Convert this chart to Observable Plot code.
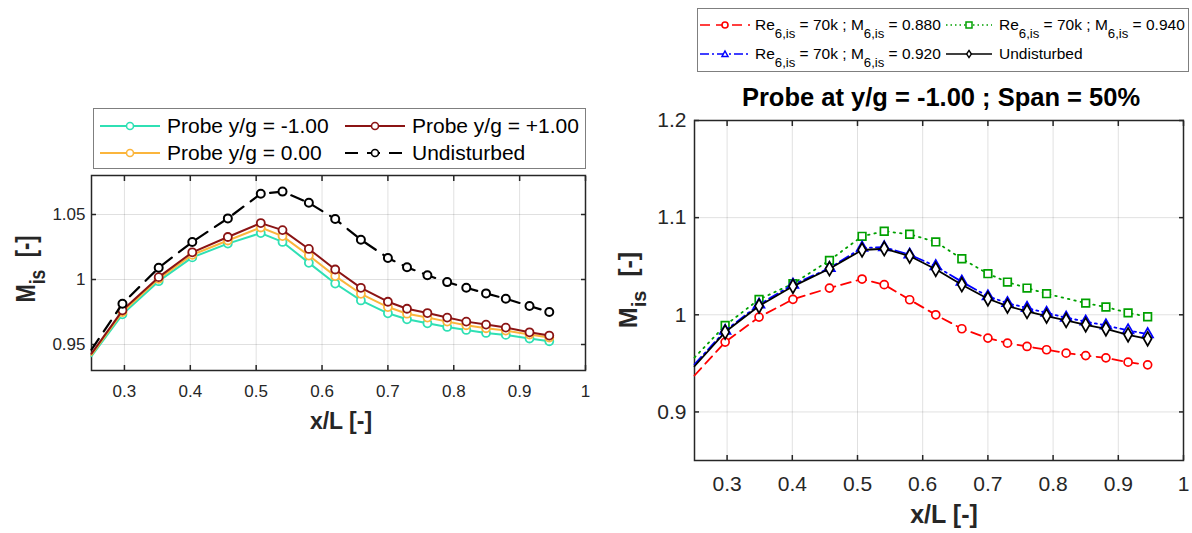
<!DOCTYPE html>
<html>
<head>
<meta charset="utf-8">
<script src="https://cdn.jsdelivr.net/npm/d3@7"></script>
<script src="https://cdn.jsdelivr.net/npm/@observablehq/plot@0.6"></script>
<style>
  html, body { margin: 0; padding: 0; background: #fff; }
  #root { position: relative; width: 1192px; height: 533px; overflow: hidden; background: #fff;
          font-family: "Liberation Sans", Arial, Helvetica, sans-serif; color: #262626; }
  .legend { position: absolute; background: #fff; border: 1px solid #7f7f7f; box-sizing: border-box; }
  .item { position: absolute; display: flex; align-items: center; white-space: nowrap; color: #000; }
  .item svg { flex: none; }
  .axlab { position: absolute; font-weight: bold; color: #262626; white-space: nowrap; }
  sub { font-size: 0.8em; vertical-align: -0.45em; line-height: 0; }
  .rl sub { font-size: 0.85em; vertical-align: -0.6em; }
</style>
</head>
<body>
<div id="root"></div>
<script>
// ---------------- Data ----------------
// Left panel: probe positions y/g
const leftX = [0.25, 0.297, 0.352, 0.403, 0.457, 0.507, 0.540, 0.580, 0.620, 0.659, 0.700, 0.729, 0.760, 0.790, 0.819, 0.849, 0.879, 0.915, 0.945];
const leftProbeMinus1 = [0.941, 0.9732, 0.9987, 1.017, 1.0276, 1.0357, 1.0289, 1.0128, 0.9969, 0.9839, 0.974, 0.9694, 0.9663, 0.9635, 0.9612, 0.9589, 0.9574, 0.9546, 0.9525];
const leftProbe0 = [0.942, 0.975, 1.0005, 1.019, 1.030, 1.040, 1.0334, 1.0184, 1.0026, 0.989, 0.9788, 0.9737, 0.9707, 0.9676, 0.9648, 0.9625, 0.9607, 0.9577, 0.9554];
const leftProbePlus1 = [0.943, 0.9763, 1.0018, 1.0209, 1.0327, 1.0434, 1.038, 1.0235, 1.0077, 0.9936, 0.9829, 0.9775, 0.9742, 0.9707, 0.9676, 0.9653, 0.963, 0.9594, 0.9569];
const leftUndisturbed = [0.946, 0.9814, 1.009, 1.0289, 1.047, 1.066, 1.0676, 1.059, 1.0465, 1.0306, 1.0166, 1.0094, 1.0033, 0.998, 0.9936, 0.9893, 0.9852, 0.9796, 0.975];
const leftLabels = ["Probe y/g = -1.00", "Probe y/g = +1.00", "Probe y/g = 0.00", "Undisturbed"];

// Right panel: Mach number variation
const rightX = [0.25, 0.297, 0.349, 0.401, 0.457, 0.507, 0.541, 0.580, 0.620, 0.660, 0.700, 0.730, 0.760, 0.790, 0.820, 0.850, 0.881, 0.915, 0.945];
const rightM088 = [0.9375, 0.9719, 0.9976, 1.0159, 1.0275, 1.0368, 1.031, 1.0155, 1.0, 0.9856, 0.976, 0.9708, 0.9674, 0.964, 0.9605, 0.958, 0.9557, 0.9512, 0.9485];
const rightM092 = [0.949, 0.9835, 1.0105, 1.031, 1.048, 1.069, 1.0695, 1.062, 1.050, 1.034, 1.019, 1.012, 1.007, 1.002, 0.997, 0.993, 0.989, 0.984, 0.980];
const rightXM094 = [0.25, 0.297, 0.349, 0.401, 0.457, 0.507, 0.541, 0.580, 0.620, 0.660, 0.700, 0.730, 0.760, 0.790, 0.850, 0.881, 0.915, 0.945];
const rightM094 = [0.956, 0.989, 1.0159, 1.032, 1.056, 1.0808, 1.086, 1.0829, 1.075, 1.0577, 1.0423, 1.0337, 1.0275, 1.0217, 1.012, 1.008, 1.002, 0.998];
const rightUndisturbed = [0.947, 0.9822, 1.009, 1.0293, 1.0474, 1.0667, 1.068, 1.0605, 1.0468, 1.031, 1.0165, 1.009, 1.0035, 0.9987, 0.9942, 0.9897, 0.9856, 0.9794, 0.9753];
const rightLabels = [
  "Re<sub>6,is</sub> = 70k ; M<sub>6,is</sub> = 0.880",
  "Re<sub>6,is</sub> = 70k ; M<sub>6,is</sub> = 0.940",
  "Re<sub>6,is</sub> = 70k ; M<sub>6,is</sub> = 0.920",
  "Undisturbed"
];
const rightTitle = "Probe at y/g = -1.00 ; Span = 50%";

const xTicks = [0.3, 0.4, 0.5, 0.6, 0.7, 0.8, 0.9, 1];
const leftYTicks = [0.95, 1, 1.05];
const rightYTicks = [0.9, 1, 1.1, 1.2];
const xLabel = "x/L [-]";

// ---------------- Helpers ----------------
const FONT = '"Liberation Sans", Arial, Helvetica, sans-serif';
const fmt = d => (Math.abs(d - Math.round(d)) < 1e-9 ? String(Math.round(d)) : String(+d.toFixed(2)));
const pts = (xs, ys) => xs.map((x, i) => ({x, y: ys[i]}));
const root = document.getElementById("root");

function frameAxes(yTicks, fontSize, xPad, yPad) {
  return [
    Plot.gridX(xTicks, {stroke: "#000", strokeOpacity: 0.12}),
    Plot.gridY(yTicks, {stroke: "#000", strokeOpacity: 0.12}),
    Plot.axisX(xTicks, {anchor: "bottom", tickSize: -5, tickPadding: xPad, tickFormat: fmt, fontSize, fill: "#262626", stroke: "#262626", strokeWidth: 1.5, label: null}),
    Plot.axisX(xTicks, {anchor: "top", tickSize: -5, tickFormat: () => "", stroke: "#262626", strokeWidth: 1.5, label: null}),
    Plot.axisY(yTicks, {anchor: "left", tickSize: -5, tickPadding: yPad, tickFormat: fmt, fontSize, fill: "#262626", stroke: "#262626", strokeWidth: 1.5, label: null}),
    Plot.axisY(yTicks, {anchor: "right", tickSize: -5, tickFormat: () => "", stroke: "#262626", strokeWidth: 1.5, label: null}),
    Plot.frame({stroke: "#262626", strokeWidth: 1.5})
  ];
}

function series(data, color, opts) {
  const marks = [Plot.line(data, {x: "x", y: "y", stroke: color, strokeWidth: opts.w, strokeDasharray: opts.dash, strokeLinejoin: "round"})];
  marks.push(Plot.dot(data.filter(d => d.x > 0.26), {x: "x", y: "y", symbol: opts.symbol, r: opts.r, stroke: color, fill: "#fff", strokeWidth: opts.mw}));
  return marks;
}

// ---------------- Left chart ----------------
const L = {m1: "#2fe0b4", z0: "#fbb53c", p1: "#8b1414", und: "#000"};
const leftPlot = Plot.plot({
  width: 600, height: 240,
  marginLeft: 91, marginRight: 15, marginTop: 5, marginBottom: 40,
  x: {domain: [0.25, 1]},
  y: {domain: [0.93, 1.08]},
  style: {fontFamily: FONT, background: "transparent", overflow: "visible"},
  marks: [
    ...frameAxes(leftYTicks, 17, 19, 11),
    ...series(pts(leftX, leftProbeMinus1), L.m1, {w: 2, symbol: "circle", r: 4, mw: 1.8}),
    ...series(pts(leftX, leftProbe0), L.z0, {w: 2, symbol: "circle", r: 4, mw: 1.8}),
    ...series(pts(leftX, leftProbePlus1), L.p1, {w: 2, symbol: "circle", r: 4, mw: 1.8}),
    ...series(pts(leftX, leftUndisturbed), L.und, {w: 2.2, dash: "13,9", symbol: "circle", r: 4, mw: 2})
  ]
});
leftPlot.style.position = "absolute";
leftPlot.style.left = "0px";
leftPlot.style.top = "170px";
root.appendChild(leftPlot);

// ---------------- Right chart ----------------
const R = {red: "#ff0000", blue: "#0000ff", green: "#00a000", und: "#000"};
const rightPlot = Plot.plot({
  width: 592, height: 400,
  marginLeft: 94, marginRight: 9, marginTop: 10, marginBottom: 50,
  x: {domain: [0.25, 1]},
  y: {domain: [0.85, 1.2]},
  style: {fontFamily: FONT, background: "transparent", overflow: "visible"},
  marks: [
    ...frameAxes(rightYTicks, 21, 21, 13),
    ...series(pts(rightX, rightM088), R.red, {w: 1.8, dash: "10,6", symbol: "circle", r: 4, mw: 1.7}),
    ...series(pts(rightXM094, rightM094), R.green, {w: 1.8, dash: "1.5,5", symbol: "square", r: 4.3, mw: 1.7}),
    ...series(pts(rightX, rightM092), R.blue, {w: 1.8, dash: "10,4,2,4", symbol: "triangle", r: 4, mw: 1.7}),
    ...series(pts(rightX, rightUndisturbed), R.und, {w: 1.8, symbol: "diamond", r: 4.2, mw: 1.7})
  ]
});
rightPlot.style.position = "absolute";
rightPlot.style.left = "600px";
rightPlot.style.top = "110px";
root.appendChild(rightPlot);

// ---------------- Labels ----------------
function addDiv(cls, html, css) {
  const d = document.createElement("div");
  d.className = cls;
  d.innerHTML = html;
  Object.assign(d.style, css);
  root.appendChild(d);
  return d;
}
addDiv("axlab", xLabel, {left: "341px", top: "421px", fontSize: "23px", transform: "translate(-50%,-50%)"});
addDiv("axlab", "M<sub>is</sub>&nbsp; [-]", {left: "26px", top: "269px", fontSize: "22px", transform: "translate(-50%,-50%) rotate(-90deg) scaleY(1.25)"});
addDiv("axlab", xLabel, {left: "944px", top: "514px", fontSize: "25px", transform: "translate(-50%,-50%)"});
addDiv("axlab", "M<sub>is</sub>&nbsp; [-]", {left: "628px", top: "290px", fontSize: "25px", transform: "translate(-50%,-50%) rotate(-90deg)"});
addDiv("axlab", rightTitle, {left: "941px", top: "97px", fontSize: "25.5px", color: "#000", transform: "translate(-50%,-50%)"});

// ---------------- Legends ----------------
function swatch(w, color, lw, dash, symbol, size) {
  const cx = w / 2, cy = 8;
  let m = "";
  if (symbol === "circle") m = `<circle cx="${cx}" cy="${cy}" r="${size}" fill="#fff" stroke="${color}" stroke-width="1.6"/>`;
  if (symbol === "square") m = `<rect x="${cx - size}" y="${cy - size}" width="${2 * size}" height="${2 * size}" fill="#fff" stroke="${color}" stroke-width="1.5"/>`;
  if (symbol === "triangle") m = `<path d="M${cx},${cy - size} L${cx + size},${cy + size * 0.8} L${cx - size},${cy + size * 0.8}Z" fill="#fff" stroke="${color}" stroke-width="1.5"/>`;
  if (symbol === "diamond") m = `<path d="M${cx},${cy - size * 1.2} L${cx + size * 0.8},${cy} L${cx},${cy + size * 1.2} L${cx - size * 0.8},${cy}Z" fill="#fff" stroke="${color}" stroke-width="1.4"/>`;
  return `<svg width="${w}" height="16"><line x1="0" x2="${w}" y1="${cy}" y2="${cy}" stroke="${color}" stroke-width="${lw}" ${dash ? `stroke-dasharray="${dash}"` : ""}/>${m}</svg>`;
}
function legendItem(box, left, top, sw, label, fs, gap, cls) {
  const it = document.createElement("div");
  it.className = "item" + (cls ? " " + cls : "");
  Object.assign(it.style, {left: left + "px", top: top + "px", fontSize: fs + "px", gap: gap + "px"});
  it.innerHTML = sw + `<span>${label}</span>`;
  box.appendChild(it);
}
// Left legend
const lbox = addDiv("legend", "", {left: "93px", top: "108px", width: "493px", height: "61px"});
legendItem(lbox, 6, 5, swatch(60, L.m1, 2, null, "circle", 3.5), leftLabels[0], 21, 7);
legendItem(lbox, 251, 5, swatch(60, L.p1, 2, null, "circle", 3.5), leftLabels[1], 21, 7);
legendItem(lbox, 6, 32, swatch(60, L.z0, 2, null, "circle", 3.5), leftLabels[2], 21, 7);
legendItem(lbox, 251, 32, swatch(60, L.und, 2, "13,9", "circle", 3.5), leftLabels[3], 21, 7);
// Right legend
const rbox = addDiv("legend", "", {left: "697px", top: "8px", width: "492px", height: "64px"});
legendItem(rbox, 2, 7, swatch(50, R.red, 1.4, "10,6", "circle", 3), rightLabels[0], 15.5, 5, "rl");
legendItem(rbox, 248, 7, swatch(46, R.green, 1.4, "1.5,3", "square", 3), rightLabels[1], 15.5, 7, "rl");
legendItem(rbox, 2, 36, swatch(50, R.blue, 1.4, "9,3,2,3", "triangle", 3), rightLabels[2], 15.5, 5, "rl");
legendItem(rbox, 248, 36, swatch(46, R.und, 1.4, null, "diamond", 3), rightLabels[3], 15.5, 7, "rl");
</script>
</body>
</html>
